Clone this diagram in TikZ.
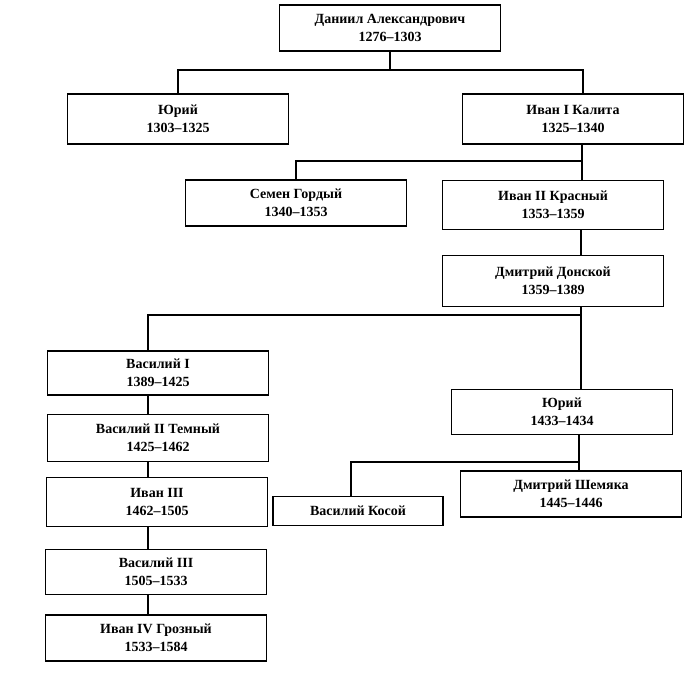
\documentclass[tikz,border=0pt]{standalone}
\usepackage{fontspec}
\setmainfont{Liberation Serif}
\usetikzlibrary{positioning}

\begin{document}
\begin{tikzpicture}[x=1pt,y=-1pt,line width=1.2pt,
  box/.style={draw,rectangle,align=center,inner sep=0pt,minimum width=221pt,minimum height=46pt,font=\fontsize{14}{18}\selectfont\bfseries}]
\useasboundingbox (0,0) rectangle (700,680);

\coordinate (c1) at (178,70);
\coordinate (c2) at (583,70);
\coordinate (c3) at (296,161);
\coordinate (c4) at (582,161);
\coordinate (c5) at (148,315);
\coordinate (c6) at (581,315);
\coordinate (c7) at (351,462);
\coordinate (c8) at (579,462);

\node[box] (dan) at (390,28) {Даниил Александрович\\1276--1303};
\node[box,minimum height=50pt] (jur1) at (178,119) {Юрий\\1303--1325};
\node[box,minimum height=50pt] (ivan1) at (573,119) {Иван I Калита\\1325--1340};
\node[box] (semen) at (296,203) {Семен Гордый\\1340--1353};
\node[box,minimum height=49pt] (ivan2) at (553,205) {Иван II Красный\\1353--1359};
\node[box,minimum height=51pt] (dd) at (553,281) {Дмитрий Донской\\1359--1389};
\node[box,minimum height=44pt] (vas1) at (158,373) {Василий I\\1389--1425};
\node[box,minimum height=47pt] (vas2) at (158,438) {Василий II Темный\\1425--1462};
\node[box,minimum height=49pt] (ivan3) at (157,502) {Иван III\\1462--1505};
\node[box,minimum height=45pt] (vas3) at (156,572) {Василий III\\1505--1533};
\node[box] (ivan4) at (156,638) {Иван IV Грозный\\1533--1584};
\node[box,minimum height=45pt] (jur2) at (562,412) {Юрий\\1433--1434};
\node[box,minimum width=170pt,minimum height=29pt] (kos) at (358,511) {Василий Косой};
\node[box] (shem) at (571,494) {Дмитрий Шемяка\\1445--1446};

\draw (dan.south) -- (dan.south |- c1);
\draw (jur1.north) -- (c1) -- (c2) -- (ivan1.north -| c2);
\draw (ivan1.south -| c4) -- (ivan2.north -| c4);
\draw (semen.north) -- (c3) -- (c4);
\draw (ivan2.south -| c6) -- (dd.north -| c6);
\draw (dd.south -| c6) -- (jur2.north -| c6);
\draw (vas1.north -| c5) -- (c5) -- (c6);
\draw (vas1.south -| c5) -- (vas2.north -| c5);
\draw (vas2.south -| c5) -- (ivan3.north -| c5);
\draw (ivan3.south -| c5) -- (vas3.north -| c5);
\draw (vas3.south -| c5) -- (ivan4.north -| c5);
\draw (jur2.south -| c8) -- (shem.north -| c8);
\draw (kos.north -| c7) -- (c7) -- (c8);
\end{tikzpicture}
\end{document}
